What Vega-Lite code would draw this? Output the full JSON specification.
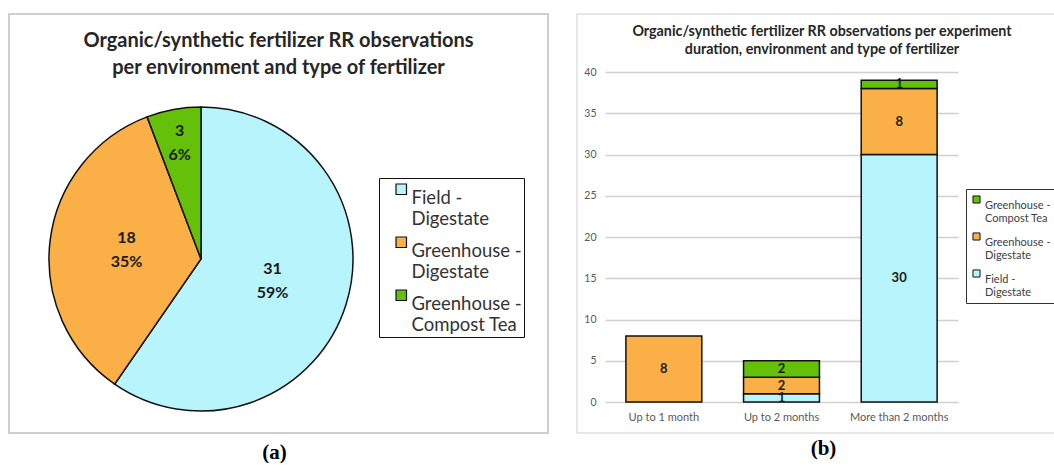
{
  "$schema": "https://vega.github.io/schema/vega-lite/v6.json",
  "padding": {"left": 8, "top": 13, "right": 0, "bottom": 0},
  "autosize": {"type": "pad"},
  "background": "white",
  "config": {
    "font": "Lato",
    "view": {"stroke": null},
    "concat": {"spacing": 27}
  },
  "datasets": {
    "pie": [
      {"series": "Field - Digestate", "env": "Field", "type": "Digestate", "n": 31, "pct": "59%"},
      {"series": "Greenhouse - Digestate", "env": "Greenhouse", "type": "Digestate", "n": 18, "pct": "35%"},
      {"series": "Greenhouse - Compost Tea", "env": "Greenhouse", "type": "Compost Tea", "n": 3, "pct": "6%"}
    ],
    "bars": [
      {"duration": "Up to 1 month", "series": "Greenhouse - Digestate", "env": "Greenhouse", "type": "Digestate", "n": 8},
      {"duration": "Up to 2 months", "series": "Field - Digestate", "env": "Field", "type": "Digestate", "n": 1},
      {"duration": "Up to 2 months", "series": "Greenhouse - Digestate", "env": "Greenhouse", "type": "Digestate", "n": 2},
      {"duration": "Up to 2 months", "series": "Greenhouse - Compost Tea", "env": "Greenhouse", "type": "Compost Tea", "n": 2},
      {"duration": "More than 2 months", "series": "Field - Digestate", "env": "Field", "type": "Digestate", "n": 30},
      {"duration": "More than 2 months", "series": "Greenhouse - Digestate", "env": "Greenhouse", "type": "Digestate", "n": 8},
      {"duration": "More than 2 months", "series": "Greenhouse - Compost Tea", "env": "Greenhouse", "type": "Compost Tea", "n": 1}
    ]
  },
  "resolve": {"scale": {"color": "independent"}, "legend": {"color": "independent"}},
  "hconcat": [
    {
      "width": 539,
      "height": 419,
      "view": {"stroke": "#c0c0c0", "strokeWidth": 1.5},
      "title": {
        "text": ["Organic/synthetic fertilizer RR observations", "per environment and type of fertilizer"],
        "anchor": "middle",
        "frame": "group",
        "offset": -64,
        "fontSize": 20,
        "fontWeight": "bold",
        "color": "#262626",
        "lineHeight": 27
      },
      "data": {"name": "pie"},
      "encoding": {
        "x": {"datum": 0.3562, "type": "quantitative", "scale": {"domain": [0, 1]},
              "axis": {"labels": false, "ticks": false, "domain": false, "grid": false, "title": "(a)", "titleFont": "Liberation Serif", "titleFontSize": 21, "titleFontWeight": "bold", "titleColor": "black", "titleX": 265, "titlePadding": 8}},
        "y": {"datum": 0.4153, "type": "quantitative", "scale": {"domain": [0, 1]}, "axis": null},
        "theta": {"field": "n", "type": "quantitative", "stack": true},
        "order": {"field": "env", "sort": "ascending"}
      },
      "layer": [
        {
          "mark": {"type": "arc", "radius": 152, "stroke": "#111111", "strokeWidth": 1.5},
          "encoding": {
            "order": {"field": "env", "sort": "ascending"},
            "color": {
              "field": "series", "type": "nominal",
              "scale": {"domain": ["Field - Digestate", "Greenhouse - Digestate", "Greenhouse - Compost Tea"], "range": ["#b8f4fb", "#fbb047", "#65c00a"]},
              "legend": {
                "orient": "none", "legendX": 370, "legendY": 164, "title": null,
                "strokeColor": "#111111", "padding": 2,
                "symbolType": "square", "symbolSize": 110, "symbolStrokeColor": "#111111", "symbolStrokeWidth": 1.2, "symbolOffset": 11,
                "labelFontSize": 18.5, "labelColor": "#333333", "labelLimit": 220, "rowPadding": 4, "labelOffset": 1,
                "labelBaseline": "top",
                "labelExpr": "[split(datum.label, ' - ')[0] + ' -\u00a0\u00a0\u00a0\u00a0\u00a0', split(datum.label, ' - ')[1]]"
              }
            }
          }
        },
        {
          "mark": {"type": "text", "fontSize": 16, "fontWeight": "bold", "color": "#1a1a1a", "dy": -12, "radius": {"expr": "datum.n < 5 ? 118 : 75"}},
          "encoding": {
            "detail": {"field": "series"},
            "order": {"field": "env", "sort": "ascending"},
            "text": {"field": "n", "type": "quantitative"}
          }
        },
        {
          "mark": {"type": "text", "fontSize": 16, "fontWeight": "bold", "color": "#1a1a1a", "dy": 12, "radius": {"expr": "datum.n < 5 ? 118 : 75"}},
          "encoding": {
            "detail": {"field": "series"},
            "order": {"field": "env", "sort": "ascending"},
            "text": {"field": "pct", "type": "nominal"}
          }
        }
      ]
    },
    {
      "width": 490,
      "height": 419,
      "view": {"stroke": "#e0e0e0", "strokeWidth": 1.5},
      "title": {
        "text": ["Organic/synthetic fertilizer RR observations per experiment", "duration, environment and type of fertilizer"],
        "anchor": "middle",
        "frame": "group",
        "offset": -43,
        "fontSize": 14.3,
        "fontWeight": "bold",
        "color": "#262626",
        "lineHeight": 18
      },
      "data": {"name": "bars"},
      "encoding": {
        "x": {
          "field": "duration", "type": "nominal",
          "sort": ["Up to 1 month", "Up to 2 months", "More than 2 months"],
          "scale": {"range": [28, 381], "paddingInner": 0.355, "paddingOuter": 0.1775},
          "axis": {"orient": "bottom", "offset": -31, "domain": false, "ticks": false, "labelAngle": 0, "labelPadding": 9, "labelFontSize": 11, "labelColor": "#595959",
                   "title": "(b)", "titleFont": "Liberation Serif", "titleFontSize": 21, "titleFontWeight": "bold", "titleColor": "black", "titleX": 246, "titlePadding": 15}
        },
        "y": {
          "field": "n", "type": "quantitative", "stack": "zero",
          "scale": {"domain": [0, 40], "range": [388, 58], "nice": false},
          "axis": {"offset": -28, "values": [0, 5, 10, 15, 20, 25, 30, 35, 40], "domain": false, "ticks": false, "grid": true, "gridColor": "#d0d0d0", "gridWidth": 1.5, "labelPadding": 9, "labelFontSize": 10.5, "labelColor": "#595959", "title": null}
        },
        "order": {"field": "env", "sort": "ascending"}
      },
      "layer": [
        {
          "mark": {"type": "bar", "stroke": "#111111", "strokeWidth": 1.5},
          "encoding": {
            "order": {"field": "env", "sort": "ascending"},
            "color": {
              "field": "series", "type": "nominal",
              "scale": {"domain": ["Greenhouse - Compost Tea", "Greenhouse - Digestate", "Field - Digestate"], "range": ["#65c00a", "#fbb047", "#b8f4fb"]},
              "legend": {
                "orient": "none", "legendX": 389, "legendY": 175, "title": null,
                "strokeColor": "#333333", "padding": 5,
                "symbolType": "square", "symbolSize": 50, "symbolStrokeColor": "#111111", "symbolStrokeWidth": 1,
                "labelFontSize": 11, "labelColor": "#404040", "labelLimit": 200, "rowPadding": 6, "labelOffset": 3,
                "labelBaseline": "top",
                "labelExpr": "[split(datum.label, ' - ')[0] + ' -', split(datum.label, ' - ')[1]]"
              }
            }
          }
        },
        {
          "mark": {"type": "text", "fontSize": 13, "fontWeight": "bold", "color": "#1a1a1a"},
          "encoding": {
            "detail": {"field": "series"},
            "order": {"field": "env", "sort": "ascending"},
            "y": {"field": "n", "type": "quantitative", "stack": "zero", "bandPosition": 0.5},
            "text": {"field": "n", "type": "quantitative"}
          }
        }
      ]
    }
  ]
}
